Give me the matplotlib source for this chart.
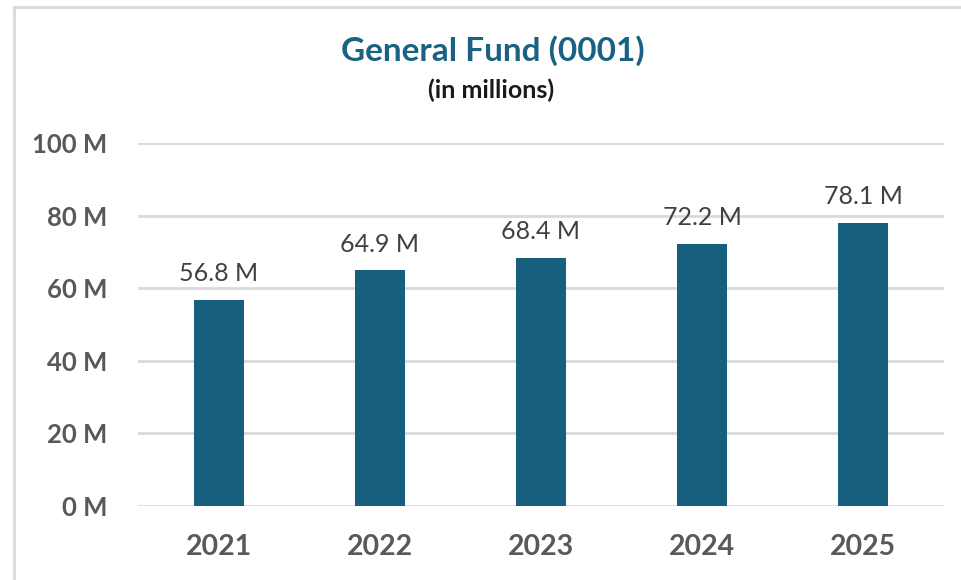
import matplotlib
matplotlib.use('Agg')
import matplotlib.pyplot as plt
from matplotlib.lines import Line2D
from matplotlib.ticker import FuncFormatter

# 年度与普通基金金额（百万）
years = ['2021', '2022', '2023', '2024', '2025']
amounts = [56.8, 64.9, 68.4, 72.2, 78.1]
y_ticks = [0, 20, 40, 60, 80, 100]

BAR_COLOR = '#175f7f'
GRID_COLOR = '#d9d9d9'
TICK_COLOR = '#595959'
LABEL_COLOR = '#404040'

plt.rcParams['font.family'] = ['Lato', 'DejaVu Sans']

fig = plt.figure(figsize=(9.61, 5.80), dpi=100)
ax = fig.add_axes([0.1436, 0.1276, 0.8384, 0.6258])

x = range(len(years))
bars = ax.bar(x, amounts, width=0.31, color=BAR_COLOR, zorder=3)

# 柱顶数值标签
for rect, val in zip(bars, amounts):
    ax.text(rect.get_x() + rect.get_width() / 2, val + 4.0, f'{val:.1f} M',
            ha='center', va='bottom', fontsize=18, color=LABEL_COLOR)

ax.set_xlim(-0.5, len(years) - 0.5)
ax.set_ylim(0, 100)
ax.set_yticks(y_ticks)
ax.yaxis.set_major_formatter(FuncFormatter(lambda v, p: f'{int(v)} M'))
ax.set_xticks(list(x))
ax.set_xticklabels(years)

ax.grid(axis='y', color=GRID_COLOR, linewidth=2, zorder=0)
for s in ax.spines.values():
    s.set_visible(False)
ax.tick_params(axis='both', length=0, labelcolor=TICK_COLOR)
ax.tick_params(axis='y', pad=22, labelsize=18.5)
ax.tick_params(axis='x', pad=20, labelsize=20.5)
for lab in ax.get_xticklabels() + ax.get_yticklabels():
    lab.set_fontweight('bold')

# 标题
fig.text(0.513, 0.912, 'General Fund (0001)', ha='center', va='center',
         fontsize=24, fontweight='bold', color='#1a6284')
fig.text(0.511, 0.845, '(in millions)', ha='center', va='center',
         fontsize=18, fontweight='bold', color='#1a1a1a')

# 图表外框
fig.add_artist(Line2D([13.5 / 961, 13.5 / 961], [0, 1 - 6.5 / 580],
                      transform=fig.transFigure, color=GRID_COLOR, linewidth=2))
fig.add_artist(Line2D([13.5 / 961, 1], [1 - 6.5 / 580, 1 - 6.5 / 580],
                      transform=fig.transFigure, color=GRID_COLOR, linewidth=2))

fig.savefig('out.png', dpi=100)
